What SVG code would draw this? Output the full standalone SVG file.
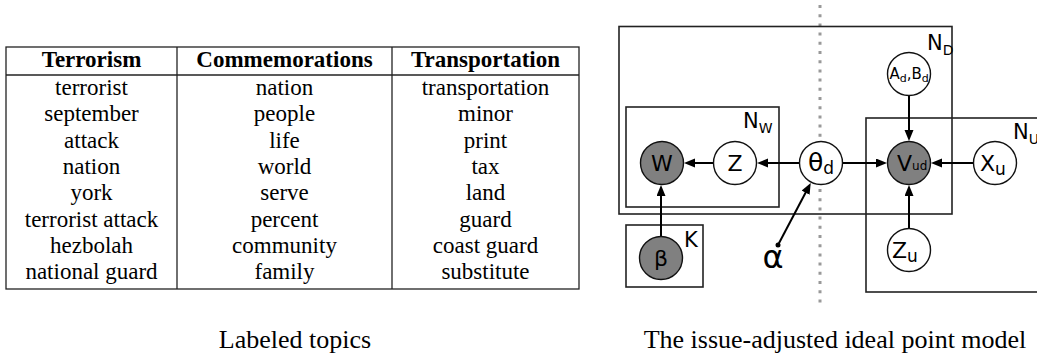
<svg xmlns="http://www.w3.org/2000/svg" width="1037" height="358" viewBox="0 0 1037 358">
<style>
.tb{font-family:"Liberation Serif","Times New Roman",serif;font-size:23px;fill:#000;text-anchor:middle}
.th{font-weight:bold}
.tl{stroke:#222;stroke-width:1.3;fill:none}
.cap{font-family:"Liberation Serif","Times New Roman",serif;font-size:26px;fill:#000;text-anchor:middle}
.plate{fill:none;stroke:#222;stroke-width:1.6}
.obs{fill:#808080;stroke:#111;stroke-width:1.4}
.lat{fill:#fff;stroke:#111;stroke-width:1.4}
.nt{font-family:"DejaVu Sans",Verdana,sans-serif;fill:#000}
.edge{stroke:#000;stroke-width:2;fill:none;marker-end:url(#ah)}
</style>
<defs>
<marker id="ah" markerUnits="userSpaceOnUse" markerWidth="12" markerHeight="10" refX="3" refY="4.5" orient="auto">
<path d="M0,0 L11,4.5 L0,9 z" fill="#000"/>
</marker>
</defs>
<rect width="1037" height="358" fill="#fff"/>

<g id="table">
<rect class="tl" x="6" y="47" width="573" height="242"/>
<line class="tl" x1="6" y1="75" x2="579" y2="75"/>
<line class="tl" x1="177" y1="47" x2="177" y2="289"/>
<line class="tl" x1="392" y1="47" x2="392" y2="289"/>
<text class="tb th" x="91.5" y="66.5">Terrorism</text>
<text class="tb th" x="284.5" y="66.5">Commemorations</text>
<text class="tb th" x="485.5" y="66.5">Transportation</text>
<g class="tb">
<text x="91.5" y="95">terrorist</text>
<text x="91.5" y="121.3">september</text>
<text x="91.5" y="147.6">attack</text>
<text x="91.5" y="173.9">nation</text>
<text x="91.5" y="200.2">york</text>
<text x="91.5" y="226.5">terrorist attack</text>
<text x="91.5" y="252.8">hezbolah</text>
<text x="91.5" y="279.1">national guard</text>
<text x="284.5" y="95">nation</text>
<text x="284.5" y="121.3">people</text>
<text x="284.5" y="147.6">life</text>
<text x="284.5" y="173.9">world</text>
<text x="284.5" y="200.2">serve</text>
<text x="284.5" y="226.5">percent</text>
<text x="284.5" y="252.8">community</text>
<text x="284.5" y="279.1">family</text>
<text x="485.5" y="95">transportation</text>
<text x="485.5" y="121.3">minor</text>
<text x="485.5" y="147.6">print</text>
<text x="485.5" y="173.9">tax</text>
<text x="485.5" y="200.2">land</text>
<text x="485.5" y="226.5">guard</text>
<text x="485.5" y="252.8">coast guard</text>
<text x="485.5" y="279.1">substitute</text>
</g>
</g>

<text class="cap" x="295" y="348">Labeled topics</text>
<text class="cap" x="835" y="348">The issue-adjusted ideal point model</text>

<line id="divider" x1="820" y1="5" x2="820" y2="308" stroke="#999" stroke-width="3" stroke-dasharray="3 6.2"/>

<g id="plates">
<rect class="plate" x="619" y="26.5" width="333" height="187.5"/>
<rect class="plate" x="626" y="107" width="153" height="100"/>
<rect class="plate" x="866" y="118" width="180" height="174"/>
<rect class="plate" x="626" y="225" width="77" height="62"/>
<text class="nt" x="927" y="50" font-size="21">N<tspan font-size="14" dy="5">D</tspan></text>
<text class="nt" x="743" y="128" font-size="21">N<tspan font-size="14" dy="5">W</tspan></text>
<text class="nt" x="1013" y="139" font-size="21">N<tspan font-size="14" dy="5">U</tspan></text>
<text class="nt" x="684" y="247" font-size="21">K</text>
</g>

<g id="connectors">
<line class="edge" x1="799" y1="163" x2="765" y2="163"/>
<line class="edge" x1="713.5" y1="163" x2="692" y2="163"/>
<line class="edge" x1="843" y1="163" x2="879" y2="163"/>
<line class="edge" x1="973" y1="163" x2="939" y2="163"/>
<line class="edge" x1="909" y1="96" x2="909" y2="133"/>
<line class="edge" x1="909" y1="228.5" x2="909" y2="193"/>
<line class="edge" x1="661" y1="236.5" x2="661" y2="193"/>
<line class="edge" x1="778" y1="245" x2="807" y2="190"/>
<circle cx="778" cy="245" r="2.5" fill="#000"/>
</g>

<g id="node-W"><circle class="obs" cx="662" cy="163" r="21.5"/><text class="nt" x="662" y="171" font-size="22" text-anchor="middle">W</text></g>
<g id="node-Z"><circle class="lat" cx="735" cy="163" r="21.5"/><text class="nt" x="735" y="171" font-size="22" text-anchor="middle">Z</text></g>
<g id="node-theta"><circle class="lat" cx="821" cy="163" r="21.5"/><text class="nt" x="808" y="171" font-size="25">θ<tspan font-size="17" dy="3">d</tspan></text></g>
<g id="node-V"><circle class="obs" cx="909" cy="163" r="21.5"/><text class="nt" x="897" y="171" font-size="22">V<tspan font-size="12" dy="-1">ud</tspan></text></g>
<g id="node-X"><circle class="lat" cx="995" cy="163" r="21.5"/><text class="nt" x="980" y="171" font-size="22">X<tspan font-size="17" dy="4">u</tspan></text></g>
<g id="node-AB"><circle class="lat" cx="909" cy="74" r="21.5"/><text class="nt" x="889.5" y="79" font-size="15">A<tspan font-size="11" dy="3">d</tspan><tspan dy="-3">,</tspan>B<tspan font-size="11" dy="3">d</tspan></text></g>
<g id="node-beta"><circle class="obs" cx="661" cy="258" r="21.5"/><text class="nt" x="661" y="266" font-size="22" text-anchor="middle">β</text></g>
<g id="node-Zu"><circle class="lat" cx="909" cy="250" r="21.5"/><text class="nt" x="892" y="258" font-size="22">Z<tspan font-size="17" dy="4">u</tspan></text></g>
<text id="alpha" class="nt" x="773" y="268" font-size="32" text-anchor="middle">α</text>
</svg>
